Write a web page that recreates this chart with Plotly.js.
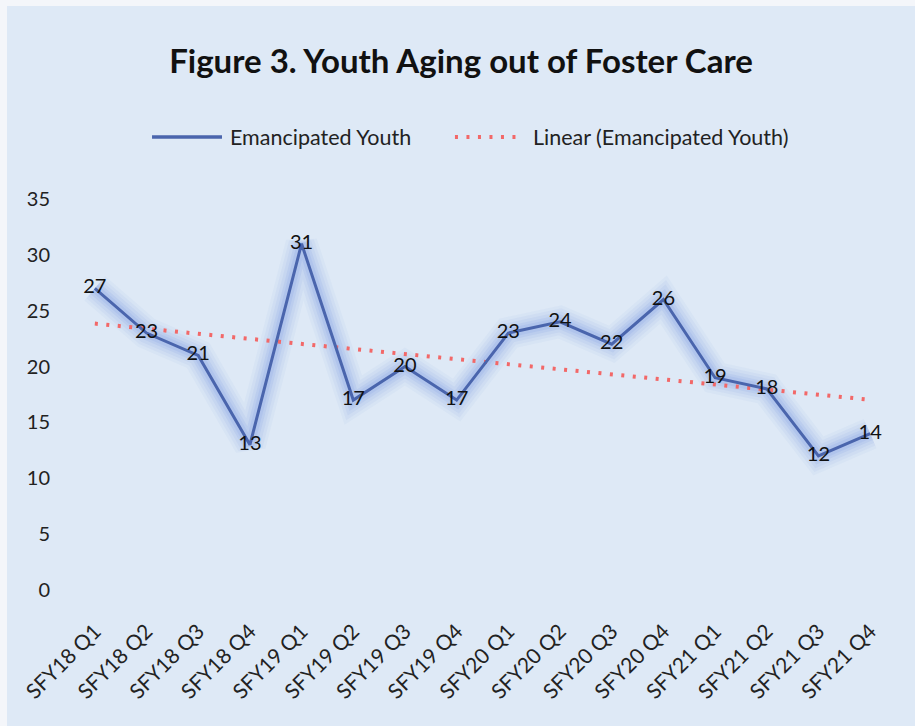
<!DOCTYPE html>
<html><head><meta charset="utf-8">
<script src="https://cdn.plot.ly/plotly-3.0.1.min.js"></script>
<style>
html,body{margin:0;padding:0;background:#f4f6fa;width:915px;height:726px;overflow:hidden}
#chart{position:absolute;left:7px;top:6px;width:908px;height:720px}
</style></head>
<body><div id="chart"></div>
<script>
const categories = ["SFY18 Q1","SFY18 Q2","SFY18 Q3","SFY18 Q4","SFY19 Q1","SFY19 Q2","SFY19 Q3","SFY19 Q4","SFY20 Q1","SFY20 Q2","SFY20 Q3","SFY20 Q4","SFY21 Q1","SFY21 Q2","SFY21 Q3","SFY21 Q4"];
const emancipated = [27,23,21,13,31,17,20,17,23,24,22,26,19,18,12,14];
const yTicks = [0,5,10,15,20,25,30,35];
const seriesName = 'Emancipated Youth';
const trendName = 'Linear (Emancipated Youth)';

// Linear trendline (least squares) of the series, as Excel's "Linear" trendline
const n = emancipated.length;
const xm = (n-1)/2;
const ym = emancipated.reduce((a,b)=>a+b,0)/n;
let sxy=0, sxx=0;
emancipated.forEach((v,i)=>{sxy+=(i-xm)*(v-ym); sxx+=(i-xm)*(i-xm);});
const slope = sxy/sxx, icept = ym - slope*xm;
const trend = emancipated.map((v,i)=>icept+slope*i);

const font = "Lato, 'Open Sans', sans-serif";
const blue = '#4a65ad', red = '#f26868';
const glow = (w,a)=>({x:categories, y:emancipated, mode:'lines', line:{color:`rgba(115,145,225,${a})`, width:w}, showlegend:false, hoverinfo:'skip'});
const data = [
  glow(32,0.06), glow(26,0.07), glow(20,0.09), glow(14,0.13), glow(9,0.15),
  {x:categories, y:trend, name:trendName, mode:'lines', showlegend:false,
   line:{color:red, width:4, dash:'3px,8.5px'}},
  {x:categories, y:emancipated, name:seriesName, mode:'lines+text', showlegend:false,
   line:{color:blue, width:3},
   text:emancipated.map(String), textposition:'middle center', textfont:{family:font, size:20, color:'#111'}}
];

const legY = 1.1586;
const layout = {
  width:908, height:720,
  paper_bgcolor:'#dee9f6', plot_bgcolor:'rgba(0,0,0,0)',
  margin:{l:62, r:19, t:193, b:136},
  title:{text:'<b>Figure 3. Youth Aging out of Foster Care</b>', font:{family:font, size:33, color:'#111'}, x:0.5, xanchor:'center', y:0.923, yanchor:'middle'},
  showlegend:false,
  shapes:[
    {type:'line', xref:'paper', yref:'paper', x0:0.1004, x1:0.185, y0:legY, y1:legY, line:{color:blue, width:3.5}},
    {type:'line', xref:'paper', yref:'paper', x0:0.4667, x1:0.5441, y0:legY, y1:legY, line:{color:red, width:4, dash:'3px,8.5px'}}
  ],
  annotations:[
    {text:seriesName, xref:'paper', yref:'paper', x:0.1923, y:legY, xanchor:'left', yanchor:'middle', showarrow:false, font:{family:font, size:21.5, color:'#222'}},
    {text:trendName, xref:'paper', yref:'paper', x:0.5586, y:legY, xanchor:'left', yanchor:'middle', showarrow:false, font:{family:font, size:21.5, color:'#222'}}
  ],
  xaxis:{type:'category', range:[-0.5,15.5], automargin:false, showgrid:false, zeroline:false, showline:false, tickangle:-45, tickfont:{family:font, size:21, color:'#222'}, ticks:'', ticklabelstandoff:24},
  yaxis:{range:[0,35], automargin:false, tickvals:yTicks, showgrid:false, zeroline:false, showline:false, tickfont:{family:font, size:20, color:'#222'}, ticks:'', ticklabelstandoff:18}
};
Plotly.newPlot('chart', data, layout, {displayModeBar:false, staticPlot:true});
</script></body></html>
